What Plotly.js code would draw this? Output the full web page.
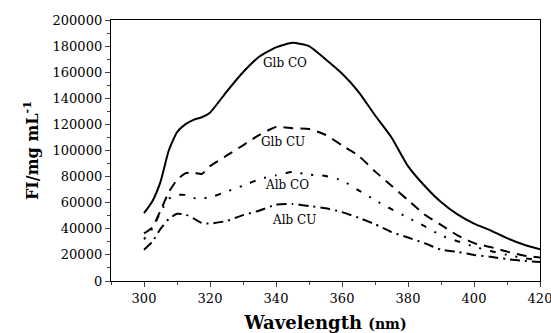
<!DOCTYPE html>
<html>
<head>
<meta charset="utf-8">
<script src="https://cdn.plot.ly/plotly-3.0.1.min.js"></script>
<style>html,body{margin:0;padding:0;background:#fff}#chart{width:551px;height:333px}</style>
</head>
<body>
<div id="chart"></div>
<script>
const wavelength = [300,302.5,305,307.5,310,312.5,315,317.5,320,325,330,335,340,345,350,355,360,365,370,375,380,385,390,395,400,405,410,415,420];
const glbCO = [52000,61000,76000,100000,114000,120000,123500,125500,129000,145000,160000,172000,179000,182500,180000,170000,159000,145000,127000,110000,88000,73000,60500,51000,44000,38800,32800,28000,24300];
const glbCU = [36500,41000,54000,68000,77500,82500,83000,82000,88000,96000,104000,112000,118000,117000,116500,112000,104000,96000,84000,73000,62000,51000,43000,35000,29000,26000,22500,19500,18000];
const albCO = [32000,40000,53000,63000,66000,66000,63500,63500,64000,68500,73000,78000,81000,83500,81500,80500,77000,69500,62000,55000,48500,42000,35000,30500,26300,23000,20000,17500,16000];
const albCU = [24000,30000,40000,47500,51500,51000,48000,44500,44000,46000,50500,54000,58500,59000,57500,55800,52800,48500,43500,37500,33300,29000,24000,22300,20000,18500,16800,15500,14500];
const seriesNames = ["Glb CO","Glb CU","Alb CO","Alb CU"];
const labelX = [342.7,342.1,343.3,345.5];
const labelY = [167000,106700,73600,46700];

const dashes = ["solid","10px,7px","2px,9px,2px,9px,6px,9px","10px,5px,2px,5px"];
const allY = [glbCO,glbCU,albCO,albCU];
const traces = allY.map((y,i)=>({
  x: wavelength, y: y, type:"scatter", mode:"lines", name: seriesNames[i],
  line:{color:"#000", width:2, dash:dashes[i], shape:"spline", smoothing:0.5},
  showlegend:false
}));
const annotations = seriesNames.map((n,i)=>({
  x: labelX[i], y: labelY[i], text: n, showarrow:false,
  font:{family:"DejaVu Serif", size:12, color:"#000"}
}));
const layout = {
  width:551, height:333,
  margin:{l:111, r:11, t:20, b:52},
  paper_bgcolor:"#fff", plot_bgcolor:"#fff",
  font:{family:"DejaVu Serif", color:"#000"},
  xaxis:{
    range:[290,420], tick0:300, dtick:20, ticks:"outside", ticklen:5, tickwidth:1,
    minor:{dtick:10, ticks:"outside", ticklen:3, tickwidth:1},
    showline:true, linecolor:"#000", linewidth:1.2, mirror:true, showgrid:false, zeroline:false,
    ticklabeloverflow:"allow",
    tickfont:{family:"DejaVu Serif", size:13},
    title:{text:"<b>Wavelength <span style='font-size:14px'>(nm)</span></b>", font:{family:"DejaVu Serif", size:18}, standoff:12}
  },
  yaxis:{
    range:[0,200000], tick0:0, dtick:20000, ticks:"outside", ticklen:5, tickwidth:1,
    minor:{dtick:10000, ticks:"outside", ticklen:3, tickwidth:1},
    showline:true, linecolor:"#000", linewidth:1.2, mirror:true, showgrid:false, zeroline:false,
    tickformat:"d", tickfont:{family:"DejaVu Serif", size:13},
    title:{text:"<b>FI/mg mL<sup>-1</sup></b>", font:{family:"DejaVu Serif", size:16}, standoff:10}
  },
  annotations: annotations
};
Plotly.newPlot("chart", traces, layout, {displayModeBar:false, staticPlot:true});
</script>
</body>
</html>
